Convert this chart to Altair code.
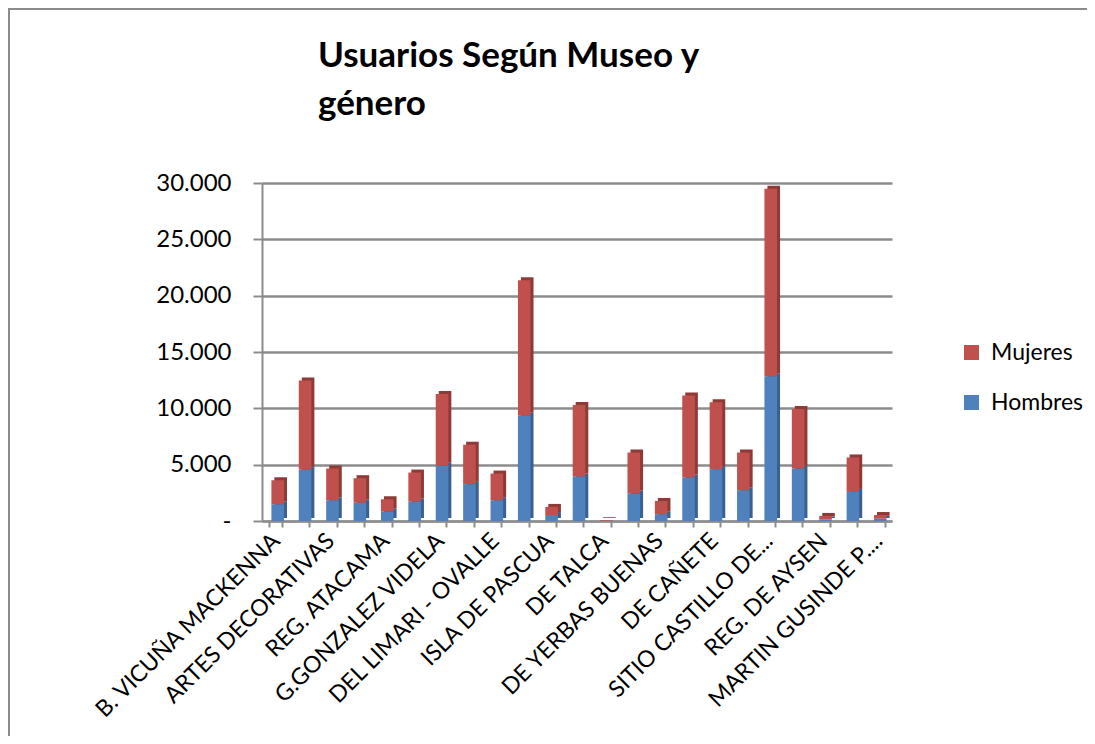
import json
import altair as alt
import pandas as pd

# Categories (Excel only printed every other label; hidden ones are placeholders)
museos = [
    "B. VICUÑA MACKENNA", "MUSEO 2", "ARTES DECORATIVAS", "MUSEO 4",
    "REG. ATACAMA", "MUSEO 6", "G.GONZALEZ VIDELA", "MUSEO 8",
    "DEL LIMARI - OVALLE", "MUSEO 10", "ISLA DE PASCUA", "MUSEO 12",
    "DE TALCA", "MUSEO 14", "DE YERBAS BUENAS", "MUSEO 16",
    "DE CAÑETE", "MUSEO 18", "SITIO CASTILLO DE...", "MUSEO 20",
    "REG. DE AYSEN", "MUSEO 22", "MARTIN GUSINDE P....",
]
etiquetas_visibles = museos[0::2]

hombres = [1490, 4540, 1840, 1630, 830, 1720, 4900, 3270, 1840, 9350, 530, 3950,
           20, 2430, 600, 3860, 4600, 2730, 12850, 4660, 150, 2580, 200]
mujeres = [2130, 7930, 2820, 2170, 1100, 2580, 6380, 3500, 2370, 12020, 720, 6350,
           60, 3650, 1180, 7270, 5930, 3350, 16650, 5280, 300, 3060, 330]

series = ["Mujeres", "Hombres"]
colores = ["#C0504D", "#4F81BD"]
colores_lado = ["#8E3A37", "#3A6090"]
y_ticks = [0, 5000, 10000, 15000, 20000, 25000, 30000]
titulo = "Usuarios Según Museo y\ngénero"

rows = []
for i, m in enumerate(museos):
    rows.append({"museo": m, "genero": "Hombres", "valor": hombres[i], "ord": 0})
    rows.append({"museo": m, "genero": "Mujeres", "valor": mujeres[i], "ord": 1})
df = pd.DataFrame(rows)

FONT = "Lato"
GRAY = "#8C8C8C"

x_enc = alt.X(
    "museo:N", sort=museos, title=None,
    scale=alt.Scale(paddingInner=0.54, paddingOuter=0.27),
    axis=alt.Axis(
        labelAngle=-45, labelAlign="right", labelBaseline="middle",
        labelFontSize=23, labelFont=FONT, labelColor="#000000",
        labelPadding=10, labelOverlap=False, labelLimit=400,
        labelExpr="indexof(" + json.dumps(etiquetas_visibles, ensure_ascii=False) + ", datum.value) >= 0 ? datum.value : ''",
        tickBand="extent", tickSize=6, tickColor=GRAY, tickWidth=2,
        domainColor=GRAY, domainWidth=2,
    ),
)
y_enc = alt.Y(
    "valor:Q", stack="zero", title=None,
    scale=alt.Scale(domain=[0, 30000], nice=False),
    axis=alt.Axis(
        values=y_ticks, labelFontSize=24, labelFont=FONT, labelColor="#000000",
        labelPadding=22, tickSize=9, tickColor=GRAY, tickWidth=2,
        domainColor=GRAY, domainWidth=2, gridColor=GRAY, gridWidth=2.5,
        labelExpr="datum.value == 0 ? '-\u2007' : replace(format(datum.value, ',.0f'), ',', '.')",
    ),
)

base = alt.Chart(df).encode(x=x_enc, y=y_enc, order=alt.Order("ord:Q"))

lado = base.mark_bar(xOffset=5, yOffset=-3).encode(
    color=alt.Color("genero:N", scale=alt.Scale(domain=series, range=colores_lado), legend=None)
)
frente = base.mark_bar(xOffset=2).encode(
    color=alt.Color(
        "genero:N", scale=alt.Scale(domain=series, range=colores), title=None,
        legend=alt.Legend(
            orient="none", legendX=698, legendY=158, symbolType="square",
            symbolSize=225, symbolStrokeWidth=0, labelFontSize=23, labelFont=FONT,
            labelColor="#000000", rowPadding=26, labelOffset=8,
        ),
    )
)

titulo_df = pd.DataFrame({"t": [titulo]})
title_mark = alt.Chart(titulo_df).mark_text(
    align="left", baseline="alphabetic", font=FONT, fontSize=35, fontWeight="bold",
    lineBreak="\n", lineHeight=48, color="#000000",
).encode(text="t:N", x=alt.value(56), y=alt.value(-116))

borde = alt.Chart(pd.DataFrame({"b": [1]})).mark_rect(
    filled=False, stroke=GRAY, strokeWidth=2
).encode(x=alt.value(-253), x2=alt.value(1000), y=alt.value(-174), y2=alt.value(800))

chart = alt.layer(borde, lado, frente, title_mark).properties(
    width=630, height=338,
    autosize=alt.AutoSizeParams(type="none"),
    padding={"left": 254, "top": 175, "right": 195, "bottom": 215},
).resolve_scale(color="independent").configure_view(stroke=None)

chart.save("out.html", embed_options={"renderer": "svg", "actions": False})
